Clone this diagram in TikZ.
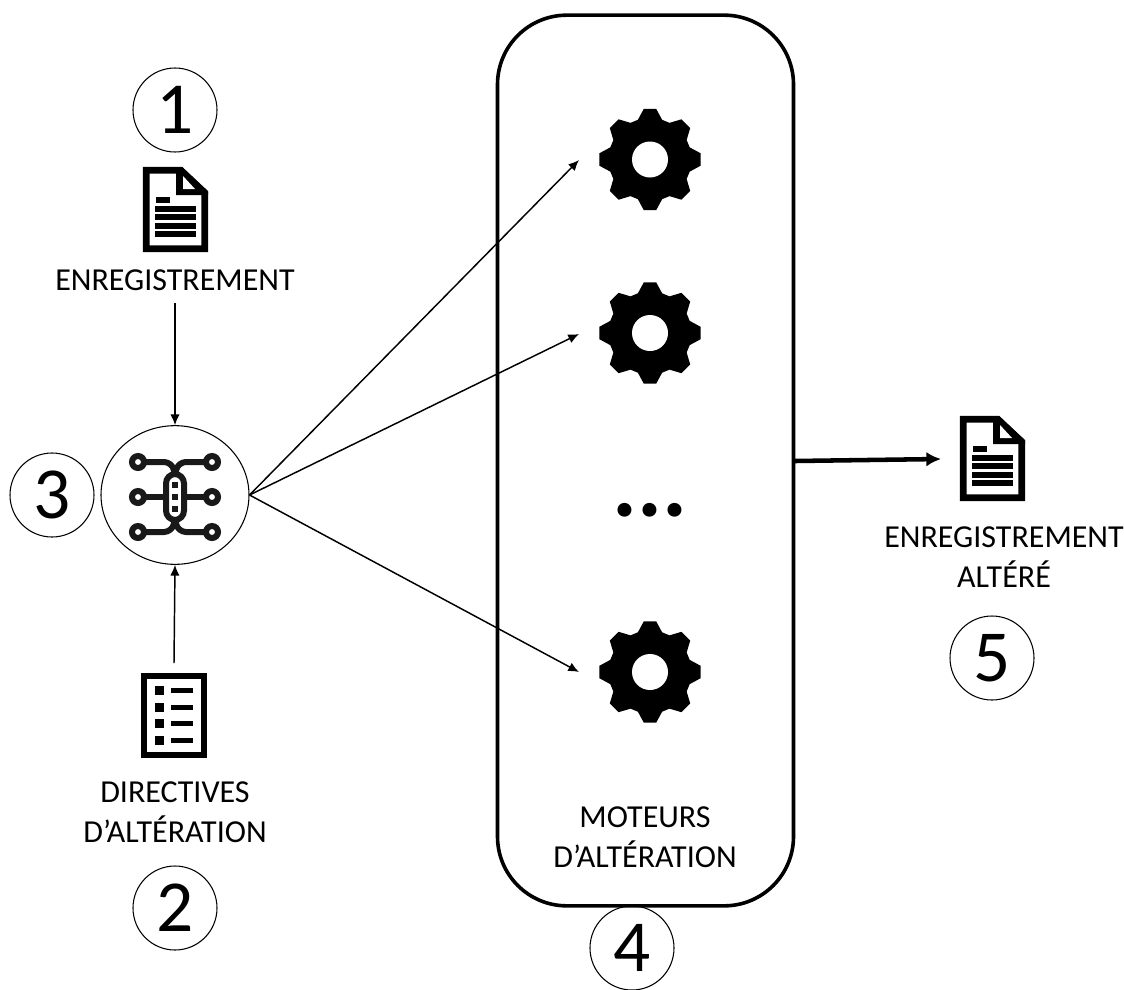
\documentclass[tikz,border=0pt]{standalone}
\usepackage{fontspec}
\setmainfont{Carlito}
\usetikzlibrary{arrows.meta,shapes.geometric}
\tikzset{
    numcircle/.style={draw, circle, line width=0.8pt, minimum size=63pt, inner sep=0pt, font=\fontsize{55}{55}\selectfont},
    caption/.style={align=center, font=\fontsize{24}{30}\selectfont},
    flow/.style={line width=1.1pt, -{Latex[length=8pt,width=7pt]}},
    docicon/.pic={
        % Feuille
        \draw[line width=5pt, miter limit=10] (3.3,3.3) -- (38,3.3) -- (61.7,26) -- (61.7,81.7) -- (3.3,81.7) -- cycle;
        \fill (33,0) -- (39,0) -- (65,24) -- (65,28) -- (33,28) -- cycle;
        \fill[white] (40,9) -- (52,22) -- (40,22) -- cycle;
        % Lignes
        \fill (13,30) rectangle (27,35.5);
        \foreach \y in {39,47,56,64}
            \fill (12,\y) rectangle (53,\y+5.5);
    },
    listicon/.pic={
        \draw[line width=4.8pt] (3,3) rectangle (63,82);
        \foreach \y in {13,30,46,63} {
            \fill (14,\y) rectangle (23,\y+9);
            \fill (30,\y+2) rectangle (52,\y+7);
        }
    },
    gearicon/.pic={
        \fill (-7:51) \foreach \a in {0,45,...,315} { -- (\a-7:51) -- (\a+7:51) -- (\a+17:41.5) -- (\a+28:41.5) } -- cycle;
        \fill[white] (0,0) circle (18);
    },
    chipicon/.pic={
        \begin{scope}[color=black!90, line width=4.5pt]
            % Pistes
            \draw[rounded corners=6pt] (-37,-35) -- (-3,-35) -- (0,-22);
            \draw[rounded corners=6pt] (37,-35) -- (3,-35) -- (0,-22);
            \draw[rounded corners=6pt] (-37,35) -- (-3,35) -- (0,22);
            \draw[rounded corners=6pt] (37,35) -- (3,35) -- (0,22);
            \draw (-37,0) -- (37,0);
            % Bornes
            \foreach \x in {-37,37}
                \foreach \y in {-35,0,35}
                    \filldraw[fill=white] (\x,\y) circle (6);
            % Boitier
            \filldraw[fill=white, rounded corners=7pt] (-9,-23) rectangle (9,23);
            \foreach \y in {-12,0,12}
                \fill (-3,\y-3) rectangle (3,\y+3);
        \end{scope}
    }
}
\begin{document}
\begin{tikzpicture}[x=0.75pt, y=-0.75pt]
    \useasboundingbox (0,0) rectangle (1124,989);

    % Moteurs
    \node[draw, line width=2.7pt, rounded corners=52pt, minimum width=222pt, minimum height=668pt, inner sep=0pt] (moteurs) at (645.5,460.5) {};
    \pic at (650,159.5) {gearicon};
    \pic at (650,333) {gearicon};
    \pic at (650,672) {gearicon};
    \node[font=\fontsize{70}{70}\bfseries\selectfont, inner sep=0pt] (points) at (650,510) {...};
    \node[caption] (labelmoteurs) at (645,837) {MOTEURS\\D’ALTÉRATION};

    % Entrees
    \pic at (143,167) {docicon};
    \node[caption] (labelrec) at (175,280) {ENREGISTREMENT};
    \pic at (141,673) {listicon};
    \node[caption] (labeldir) at (175,812) {DIRECTIVES\\D’ALTÉRATION};

    % Routeur
    \node[draw, ellipse, line width=0.8pt, minimum width=111pt, minimum height=104pt, inner sep=0pt] (routeur) at (175,495) {};
    \pic at (175,497) {chipicon};

    % Sortie
    \pic at (960,416) {docicon};
    \node[caption] (labelout) at (1004,557) {ENREGISTREMENT\\ALTÉRÉ};

    % Numeros
    \node[numcircle] (numone) at (175,110) {1};
    \node[numcircle] (numtwo) at (175,908) {2};
    \node[numcircle] (numthree) at (52,495) {3};
    \node[numcircle] (numfour) at (632,948) {4};
    \node[numcircle] (numfive) at (992,658) {5};

    % Fleches
    \coordinate (recout) at (175,303);
    \coordinate (dirout) at (174,663);
    \coordinate (gearone) at (579,160);
    \coordinate (geartwo) at (579,334);
    \coordinate (gearthree) at (579,672);
    \coordinate (sortie) at (941,459);
    \coordinate (motout) at (795,461);
    \draw[flow] (recout) -- (routeur.north);
    \draw[flow] (dirout) -- (routeur.south);
    \draw[flow] (routeur.east) -- (gearone);
    \draw[flow] (routeur.east) -- (geartwo);
    \draw[flow] (routeur.east) -- (gearthree);
    \draw[line width=3.4pt, -{Latex[length=11pt,width=11pt]}] (motout) -- (sortie);
\end{tikzpicture}
\end{document}
